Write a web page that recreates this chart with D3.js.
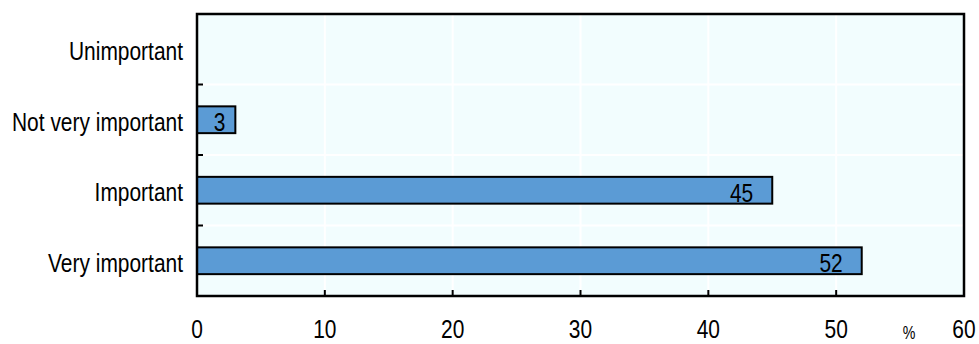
<!DOCTYPE html>
<html><head><meta charset="utf-8">
<script src="https://cdn.jsdelivr.net/npm/d3@7"></script>
<style>
body{margin:0;background:#fff;}
text{font-family:"Liberation Sans Narrow","Arial Narrow","Liberation Sans",Arial,sans-serif;}
</style></head>
<body><svg id="c" width="979" height="344"></svg>
<script>
const categories = ["Unimportant","Not very important","Important","Very important"];
const values = [null, 3, 45, 52];
const xTicks = [0,10,20,30,40,50,60];
const unitLabel = "%";

const svg = d3.select("#c");
const m = {l:197, r:964, t:14, b:296};
const FS = 26.5, SX = 0.79;
const x = d3.scaleLinear().domain([0,60]).range([m.l, m.r]);
const y = d3.scaleBand().domain(categories).range([m.t, m.b]).paddingInner(0.62).paddingOuter(0.31);
const yb = d3.scaleBand().domain(categories).range([m.t, m.b]);

function narrow(sel, fx, fy){
  return sel.attr("transform",(d,i)=>`translate(${fx(d,i)},${fy(d,i)}) scale(${SX},1)`)
    .attr("font-size",FS).attr("fill","#000");
}

svg.append("rect").attr("x",m.l).attr("y",m.t).attr("width",m.r-m.l).attr("height",m.b-m.t).attr("fill","#f2fdfe");

svg.selectAll(".vg").data(xTicks.slice(1,-1)).enter().append("line")
  .attr("x1",d=>x(d)).attr("x2",d=>x(d)).attr("y1",m.t).attr("y2",m.b)
  .attr("stroke","#fff").attr("stroke-width",2);
svg.selectAll(".hg").data(categories.slice(1)).enter().append("line")
  .attr("x1",m.l).attr("x2",m.r).attr("y1",d=>yb(d)).attr("y2",d=>yb(d))
  .attr("stroke","#fff").attr("stroke-width",2);

const data = categories.map((c,i)=>({c, v:values[i]})).filter(d=>d.v!=null);
svg.selectAll(".bar").data(data).enter().append("rect")
  .attr("x",x(0)).attr("y",d=>y(d.c)).attr("width",d=>x(d.v)-x(0)).attr("height",y.bandwidth())
  .attr("fill","#5b9bd5").attr("stroke","#000").attr("stroke-width",2);
narrow(svg.selectAll(".val").data(data).enter().append("text")
  .attr("text-anchor","end").attr("dy","0.36em").text(d=>d.v),
  d=>x(d.v)-(String(d.v).length>1?19:10), d=>y(d.c)+y.bandwidth()/2+2);

svg.append("rect").attr("x",m.l).attr("y",m.t).attr("width",m.r-m.l).attr("height",m.b-m.t)
  .attr("fill","none").attr("stroke","#000").attr("stroke-width",2.5);

svg.selectAll(".xt").data(xTicks.slice(1,-1)).enter().append("line")
  .attr("x1",d=>x(d)).attr("x2",d=>x(d)).attr("y1",m.b).attr("y2",m.b-6)
  .attr("stroke","#000").attr("stroke-width",2);
narrow(svg.selectAll(".xl").data(xTicks).enter().append("text")
  .attr("text-anchor","middle").text(d=>d), d=>x(d), ()=>338);
narrow(svg.append("text").datum(unitLabel).attr("text-anchor","middle").text(d=>d), ()=>909, ()=>339)
  .attr("font-size",18);

svg.selectAll(".yt").data(categories.slice(1)).enter().append("line")
  .attr("x1",m.l).attr("x2",m.l+6).attr("y1",d=>yb(d)).attr("y2",d=>yb(d))
  .attr("stroke","#000").attr("stroke-width",2);
narrow(svg.selectAll(".yl").data(categories).enter().append("text")
  .attr("text-anchor","end").attr("dy","0.36em").text(d=>d),
  ()=>m.l-14, d=>yb(d)+yb.bandwidth()/2+1.5);
</script></body></html>
